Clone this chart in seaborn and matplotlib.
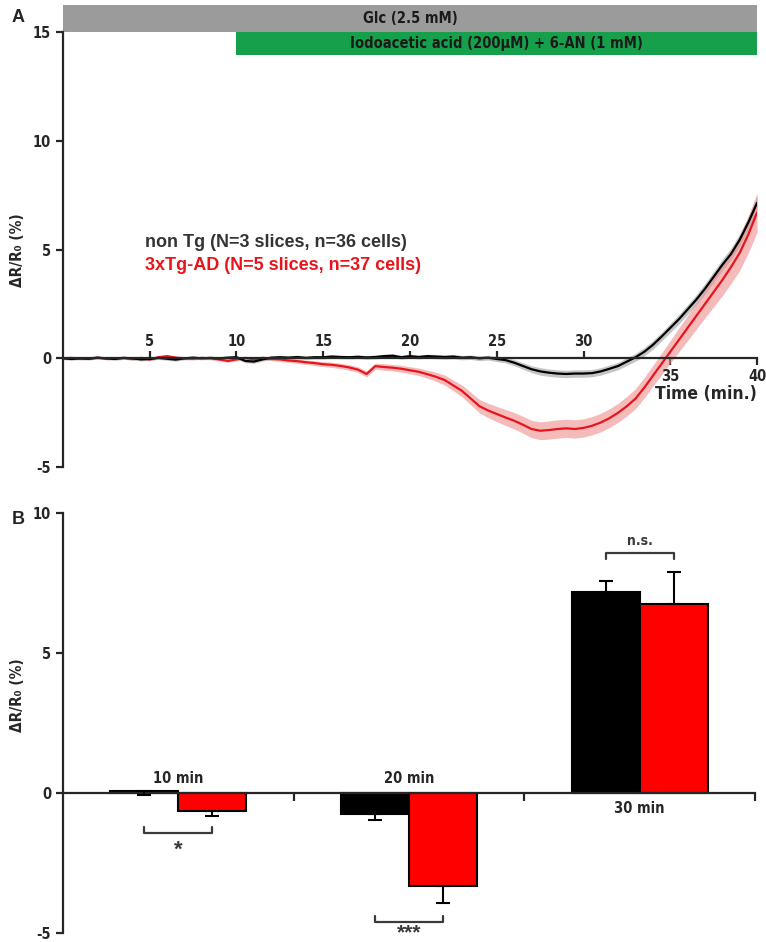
import numpy as np
import pandas as pd
import seaborn as sns
import matplotlib.pyplot as plt

# ---- panel A: time course (0.5 min sampling) ----
time_min = np.arange(0, 40.5, 0.5)

nontg_mean = [0.00, -0.03, 0.00, -0.02, 0.03, 0.00, -0.03, 0.02, 0.00, -0.05,
              -0.03, 0.02, -0.02, -0.06, 0.00, 0.03, 0.00, 0.02, 0.00, 0.03,
              0.05, -0.12, -0.15, -0.05, 0.03, 0.05, 0.03, 0.06, 0.02, 0.05,
              0.05, 0.08, 0.06, 0.05, 0.07, 0.04, 0.06, 0.10, 0.12, 0.05,
              0.10, 0.06, 0.10, 0.08, 0.06, 0.08, 0.03, 0.05, 0.00, 0.03,
              -0.03, -0.08, -0.20, -0.35, -0.50, -0.60, -0.66, -0.70, -0.72, -0.70,
              -0.70, -0.68, -0.60, -0.48, -0.35, -0.15, 0.05, 0.30, 0.62, 1.00,
              1.40, 1.80, 2.25, 2.70, 3.20, 3.75, 4.30, 4.80, 5.45, 6.25,
              7.15]
nontg_sem = [0.06, 0.06, 0.06, 0.06, 0.06, 0.06, 0.06, 0.07, 0.07, 0.07,
             0.07, 0.07, 0.07, 0.07, 0.07, 0.07, 0.07, 0.07, 0.07, 0.07,
             0.08, 0.08, 0.08, 0.08, 0.08, 0.08, 0.08, 0.08, 0.08, 0.08,
             0.08, 0.08, 0.08, 0.08, 0.08, 0.09, 0.09, 0.09, 0.09, 0.09,
             0.09, 0.09, 0.09, 0.10, 0.10, 0.10, 0.10, 0.10, 0.11, 0.11,
             0.12, 0.13, 0.14, 0.15, 0.16, 0.17, 0.17, 0.17, 0.17, 0.17,
             0.17, 0.17, 0.17, 0.17, 0.17, 0.18, 0.18, 0.19, 0.20, 0.20,
             0.21, 0.22, 0.22, 0.23, 0.24, 0.25, 0.26, 0.27, 0.28, 0.30,
             0.32]

tg_mean = [0.00, 0.02, -0.02, 0.00, 0.03, -0.02, 0.00, 0.02, -0.03, 0.02,
           -0.05, 0.05, 0.10, 0.03, 0.00, -0.02, 0.02, 0.00, -0.05, -0.12,
           -0.05, 0.02, -0.05, 0.02, -0.03, -0.05, -0.10, -0.13, -0.18, -0.22,
           -0.27, -0.30, -0.35, -0.42, -0.52, -0.72, -0.36, -0.40, -0.43, -0.48,
           -0.55, -0.62, -0.73, -0.85, -1.00, -1.25, -1.50, -1.85, -2.20, -2.40,
           -2.56, -2.72, -2.87, -3.05, -3.25, -3.33, -3.30, -3.25, -3.22, -3.25,
           -3.20, -3.10, -2.95, -2.75, -2.50, -2.20, -1.85, -1.35, -0.80, -0.25,
           0.30, 0.85, 1.40, 1.95, 2.50, 3.05, 3.60, 4.20, 4.85, 5.70,
           6.70]
tg_sem = [0.05, 0.05, 0.05, 0.05, 0.05, 0.05, 0.05, 0.06, 0.06, 0.06,
          0.06, 0.06, 0.06, 0.06, 0.06, 0.06, 0.06, 0.07, 0.07, 0.07,
          0.07, 0.07, 0.07, 0.08, 0.08, 0.08, 0.09, 0.10, 0.10, 0.11,
          0.11, 0.12, 0.12, 0.13, 0.13, 0.14, 0.14, 0.15, 0.15, 0.16,
          0.16, 0.17, 0.19, 0.21, 0.23, 0.25, 0.27, 0.29, 0.31, 0.33,
          0.35, 0.37, 0.38, 0.39, 0.40, 0.41, 0.42, 0.42, 0.42, 0.42,
          0.42, 0.42, 0.43, 0.43, 0.44, 0.45, 0.46, 0.47, 0.48, 0.50,
          0.52, 0.55, 0.58, 0.61, 0.64, 0.68, 0.72, 0.76, 0.80, 0.85,
          0.90]

protocol_labels = ['Glc (2.5 mM)', 'Iodoacetic acid (200μM) + 6-AN (1 mM)']
protocol_start = [0, 10]
protocol_end = [40, 40]
protocol_colors = ['#9b9b9b', '#17a04c']

# ---- panel B: bar summary ----
timepoints = ['10 min', '20 min', '30 min']
groups = ['non Tg', '3xTg-AD']
nontg_bar = [0.07, -0.75, 7.18]
nontg_err = [-0.15, -0.21, 0.39]
tg_bar = [-0.64, -3.32, 6.75]
tg_err = [-0.18, -0.61, 1.14]
sig_labels = ['*', '***', 'n.s.']

sns.set_style('ticks')
plt.rcParams['font.family'] = ['DejaVu Sans']
plt.rcParams['font.stretch'] = 'condensed'
plt.rcParams['font.weight'] = 'bold'
plt.rcParams['axes.linewidth'] = 1.6
plt.rcParams['axes.unicode_minus'] = False
ARIAL = ['Liberation Sans', 'DejaVu Sans']

fig = plt.figure(figsize=(7.66, 9.42), dpi=100)
axA = fig.add_axes([0.0822, 0.5042, 0.9061, 0.4905])
axB = fig.add_axes([0.0822, 0.00955, 0.9034, 0.4459])

# ---------------- panel A ----------------
axA.fill_between(time_min, np.array(nontg_mean) - np.array(nontg_sem),
                 np.array(nontg_mean) + np.array(nontg_sem),
                 color='#808080', alpha=0.45, linewidth=0)
axA.fill_between(time_min, np.array(tg_mean) - np.array(tg_sem),
                 np.array(tg_mean) + np.array(tg_sem),
                 color='#ef8f8f', alpha=0.6, linewidth=0)
sns.lineplot(x=time_min, y=tg_mean, color='#e8141b', lw=1.6, ax=axA)
sns.lineplot(x=time_min, y=nontg_mean, color='black', lw=1.6, ax=axA)

axA.barh(15.625, protocol_end[0] - protocol_start[0], left=protocol_start[0],
         height=1.25, color=protocol_colors[0], linewidth=0)
axA.barh(14.47, protocol_end[1] - protocol_start[1], left=protocol_start[1],
         height=1.05, color=protocol_colors[1], linewidth=0)
axA.text((protocol_start[0] + protocol_end[0]) / 2, 15.62, protocol_labels[0],
         ha='center', va='center', fontsize=10.5, color='#1a1a1a')
axA.text((protocol_start[1] + protocol_end[1]) / 2, 14.47, protocol_labels[1],
         ha='center', va='center', fontsize=10.5, color='#1a1a1a')

axA.set_xlim(0, 40)
axA.set_ylim(-5, 16.25)
axA.spines['top'].set_visible(False)
axA.spines['right'].set_visible(False)
axA.spines['bottom'].set_position(('data', 0))
axA.spines['bottom'].set_bounds(0, 40)
axA.spines['left'].set_bounds(-5, 15)
axA.set_yticks([-5, 0, 5, 10, 15])
axA.tick_params(axis='y', direction='out', length=5, width=1.6, labelsize=10.5)
axA.set_xticks([5, 10, 15, 20, 25, 30])
axA.set_xticks([35, 40], minor=True)
axA.tick_params(axis='x', which='major', direction='in', length=5, width=1.6,
                labelbottom=False)
axA.tick_params(axis='x', which='minor', direction='out', length=5, width=1.6,
                labelbottom=False)
for t in [5, 10, 15, 20, 25, 30]:
    axA.text(t, 0.78, str(t), ha='center', va='center', fontsize=10.5)
for t in [35, 40]:
    axA.text(t, -0.83, str(t), ha='center', va='center', fontsize=10.5)
axA.text(40, -1.66, 'Time (min.)', ha='right', va='center', fontsize=12.5)
axA.set_xlabel('')
axA.set_ylabel('')

axA.text(4.7, 5.34, 'non Tg (N=3 slices, n=36 cells)', ha='left', va='center',
         fontsize=13, color='#333333', family=ARIAL, stretch='normal')
axA.text(4.7, 4.28, '3xTg-AD (N=5 slices, n=37 cells)', ha='left', va='center',
         fontsize=13, color='#e8141b', family=ARIAL, stretch='normal')

# ---------------- panel B ----------------
df = pd.DataFrame({
    'time': timepoints * 2,
    'group': [groups[0]] * 3 + [groups[1]] * 3,
    'value': nontg_bar + tg_bar,
})
sns.barplot(data=df, x='time', y='value', hue='group', hue_order=groups,
            palette=['black', '#ff0000'], width=0.59, errorbar=None,
            edgecolor='black', linewidth=1.5, saturation=1, legend=False, ax=axB)

# one-sided error bars from the end of each bar
for cont, errs in zip(axB.containers, [nontg_err, tg_err]):
    for patch, e in zip(cont.patches, errs):
        xc = patch.get_x() + patch.get_width() / 2
        yv = patch.get_y() + patch.get_height()
        low, up = (-e, 0) if e < 0 else (0, e)
        axB.errorbar(xc, yv, yerr=[[low], [up]], fmt='none', ecolor='black',
                     elinewidth=1.5, capsize=5, capthick=1.5, zorder=4)

axB.set_xlim(-0.5, 2.5)
axB.set_ylim(-5, 10)
axB.spines['top'].set_visible(False)
axB.spines['right'].set_visible(False)
axB.spines['bottom'].set_position(('data', 0))
axB.spines['left'].set_bounds(-5, 10)
axB.set_yticks([-5, 0, 5, 10])
axB.tick_params(axis='y', direction='out', length=5, width=1.6, labelsize=10.5)
axB.set_xticks([0.5, 1.5, 2.5])
axB.tick_params(axis='x', direction='out', length=6, width=1.6, labelbottom=False)
axB.set_xlabel('')
axB.set_ylabel('')
axB.text(0, 0.5, timepoints[0], ha='center', va='center', fontsize=10.5)
axB.text(1, 0.5, timepoints[1], ha='center', va='center', fontsize=10.5)
axB.text(2, -0.54, timepoints[2], ha='center', va='center', fontsize=10.5)

# significance brackets between group bars
half = 0.59 / 4
bracket_y = [-1.43, -4.62, 8.57]
leg = [0.22, 0.22, -0.2]
for i in range(3):
    xs = [i - half, i - half, i + half, i + half]
    ys = [bracket_y[i] + leg[i], bracket_y[i], bracket_y[i], bracket_y[i] + leg[i]]
    axB.plot(xs, ys, color='#3a3a3a', lw=1.6, clip_on=False)
axB.text(0, -2.25, sig_labels[0], ha='center', va='baseline', fontsize=16,
         color='#3a3a3a', family=ARIAL, stretch='normal')
axB.text(1, -5.32, sig_labels[1], ha='center', va='bottom', fontsize=15,
         color='#3a3a3a', family=ARIAL, stretch='normal')
axB.text(2, 9.0, sig_labels[2], ha='center', va='center', fontsize=10,
         color='#3a3a3a')

# axis titles and panel letters
ylab = 'ΔR/R₀ (%)'
fig.text(18 / 766, 1 - 250 / 942, ylab, rotation=90, ha='center', va='center',
         fontsize=11)
fig.text(18 / 766, 1 - 695 / 942, ylab, rotation=90, ha='center', va='center',
         fontsize=11)
fig.text(12 / 766, 1 - 17 / 942, 'A', ha='left', va='center', fontsize=13,
         family=ARIAL, stretch='normal')
fig.text(12 / 766, 1 - 520 / 942, 'B', ha='left', va='center', fontsize=13,
         family=ARIAL, stretch='normal')

fig.savefig('out.png', dpi=100)
